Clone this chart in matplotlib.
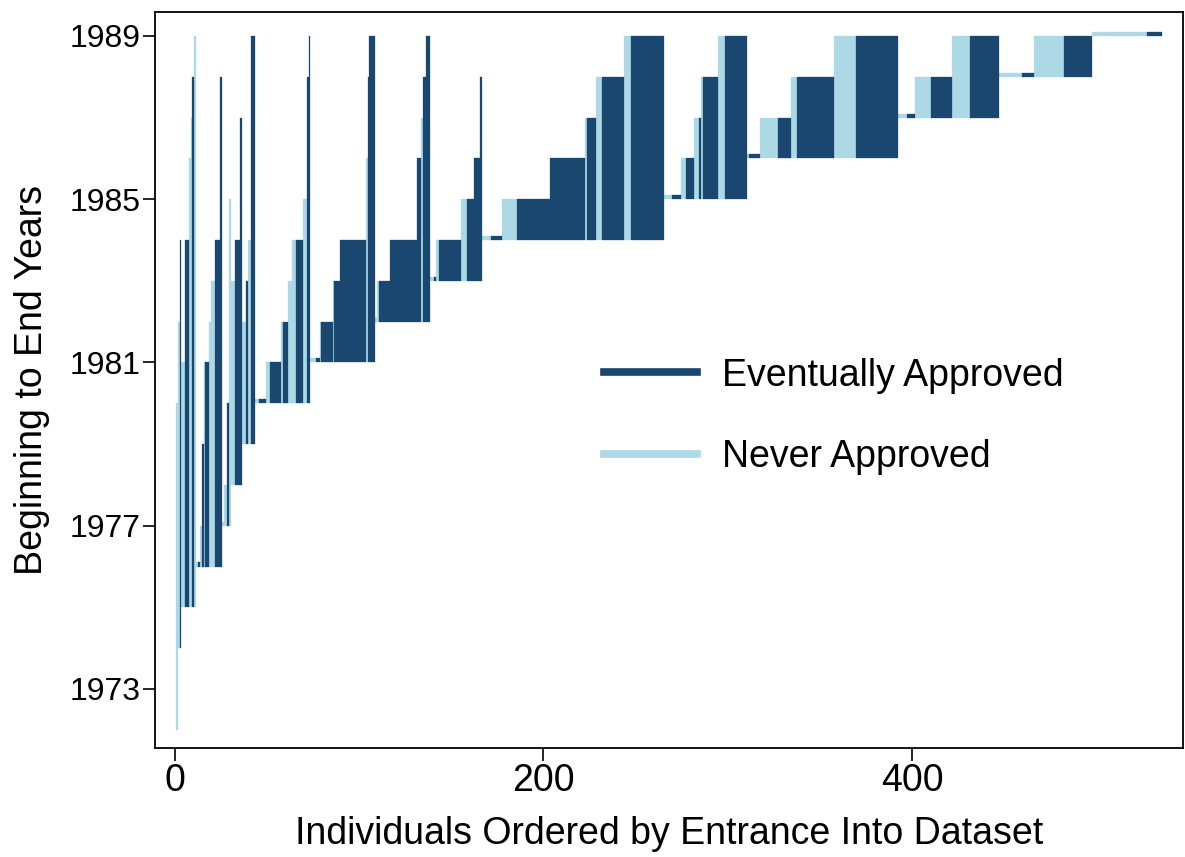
import numpy as np
import matplotlib.pyplot as plt
from matplotlib.lines import Line2D

plt.rcParams['font.family'] = ['Liberation Sans', 'DejaVu Sans']

# runs of individuals (ordered by entrance): begin year, end year, approved flag, how many
run_begin = [1972,
             1974, 1974,
             1975, 1975, 1975, 1975, 1975, 1975,
             1976, 1976, 1976, 1976, 1976, 1976, 1976, 1976, 1976, 1976,
             1977, 1977, 1977, 1977,
             1978, 1978, 1978,
             1979, 1979, 1979, 1979,
             1980, 1980, 1980, 1980, 1980, 1980, 1980, 1980, 1980, 1980, 1980, 1980,
             1981, 1981, 1981, 1981, 1981, 1981, 1981, 1981, 1981, 1981,
             1982, 1982, 1982, 1982, 1982, 1982, 1982, 1982,
             1983, 1983, 1983, 1983, 1983, 1983, 1983, 1983,
             1984, 1984, 1984, 1984, 1984, 1984, 1984, 1984, 1984, 1984, 1984,
             1985, 1985, 1985, 1985, 1985, 1985, 1985, 1985, 1985, 1985,
             1986, 1986, 1986, 1986, 1986, 1986, 1986, 1986,
             1987, 1987, 1987, 1987, 1987, 1987,
             1988, 1988, 1988, 1988,
             1989, 1989]
run_end = [1980,
           1982, 1984,
           1981, 1984, 1986, 1987, 1988, 1989,
           1976, 1976, 1977, 1979, 1981, 1981, 1982, 1983, 1984, 1988,
           1977, 1978, 1980, 1985,
           1983, 1984, 1987,
           1982, 1983, 1984, 1989,
           1980, 1980, 1981, 1981, 1982, 1982, 1983, 1984, 1984, 1985, 1988, 1989,
           1981, 1981, 1982, 1982, 1983, 1983, 1984, 1986, 1988, 1989,
           1982, 1983, 1983, 1984, 1986, 1987, 1988, 1989,
           1983, 1983, 1984, 1984, 1985, 1985, 1986, 1988,
           1984, 1984, 1985, 1985, 1986, 1987, 1987, 1988, 1988, 1989, 1989,
           1985, 1985, 1986, 1986, 1987, 1987, 1988, 1988, 1989, 1989,
           1986, 1986, 1987, 1987, 1988, 1988, 1989, 1989,
           1987, 1987, 1988, 1988, 1989, 1989,
           1988, 1988, 1989, 1989,
           1989, 1989]
run_approved = [0,
                0, 1,
                0, 1, 0, 0, 1, 0,
                0, 1, 0, 1, 0, 1, 0, 0, 1, 1,
                0, 0, 1, 0,
                0, 1, 1,
                0, 1, 0, 1,
                0, 1, 0, 1, 0, 1, 0, 0, 1, 0, 1, 1,
                0, 1, 0, 1, 0, 1, 1, 0, 1, 1,
                0, 0, 1, 1, 1, 0, 1, 1,
                0, 1, 0, 1, 0, 1, 1, 1,
                0, 1, 0, 1, 1, 0, 1, 0, 1, 0, 1,
                0, 1, 0, 1, 0, 1, 0, 1, 0, 1,
                0, 1, 0, 1, 0, 1, 0, 1,
                0, 1, 0, 1, 0, 1,
                0, 1, 0, 1,
                0, 1]
run_count = [1,
             1, 1,
             2, 2, 1, 1, 1, 1,
             1, 1, 1, 1, 1, 2, 1, 2, 3, 1,
             1, 2, 1, 1,
             2, 3, 1,
             2, 1, 2, 2,
             2, 4, 2, 6, 1, 3, 2, 2, 4, 2, 1, 1,
             3, 2, 1, 6, 1, 3, 14, 1, 1, 3,
             1, 1, 6, 15, 2, 1, 2, 2,
             2, 1, 2, 12, 3, 4, 3, 1,
             5, 6, 8, 18, 19, 1, 5, 3, 12, 4, 18,
             4, 5, 3, 4, 3, 1, 1, 8, 4, 12,
             1, 6, 10, 7, 3, 20, 12, 23,
             5, 4, 9, 11, 10, 16,
             12, 7, 16, 15,
             30, 8]

series_labels = ['Eventually Approved', 'Never Approved']
dark = '#1a476f'
light = '#add8e6'

begin = np.repeat(run_begin, run_count)
end = np.repeat(run_end, run_count)
approved = np.repeat(run_approved, run_count)
person = np.arange(1, len(begin) + 1)

# same-year spells still get a thin sliver so they show up
span = np.maximum(end - begin, 0.1)

fig = plt.figure(figsize=(11.85, 8.57), dpi=100)
ax = fig.add_axes([0.1308, 0.1272, 0.8675, 0.8588])

for flag, col in [(0, light), (1, dark)]:
    m = approved == flag
    ax.bar(person[m], span[m], bottom=begin[m], width=1.0,
           color=col, edgecolor=col, linewidth=0.2)

ax.set_xlim(-10.85, 547.1)
ax.set_ylim(1971.554, 1989.588)
ax.set_xticks([0, 200, 400])
ax.set_yticks([1973, 1977, 1981, 1985, 1989])
ax.tick_params(axis='x', length=9, width=1.2, labelsize=27, pad=2)
ax.tick_params(axis='y', length=9, width=1.2, labelsize=23, pad=1.5)
for s in ax.spines.values():
    s.set_linewidth(1.3)

ax.set_xlabel('Individuals Ordered by Entrance Into Dataset', fontsize=27, labelpad=12)
ax.set_ylabel('Beginning to End Years', fontsize=27, labelpad=14)

handles = [Line2D([], [], color=dark, lw=5.5),
           Line2D([], [], color=light, lw=5.5)]
ax.legend(handles, series_labels, loc='upper left', bbox_to_anchor=(0.4185, 0.556),
          frameon=False, fontsize=27, borderpad=0, handlelength=2.47,
          handletextpad=0.68, labelspacing=1.21)

fig.savefig('out.png', dpi=100)
